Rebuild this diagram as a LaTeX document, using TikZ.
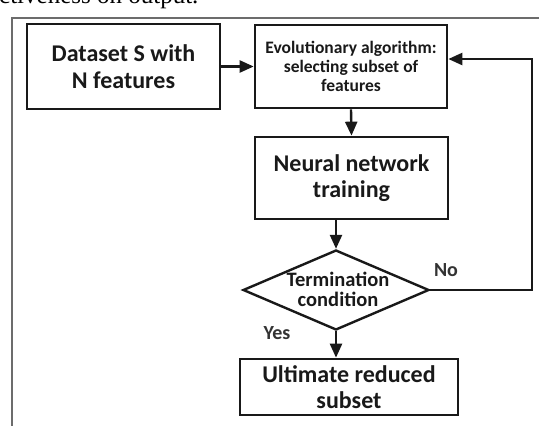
\documentclass[tikz,border=0pt]{standalone}
\usepackage{fontspec}
\setmainfont{Carlito}
\newfontfamily\serifcut{Liberation Serif}
\usetikzlibrary{arrows.meta,shapes.geometric}
\begin{document}
\begin{tikzpicture}[x=1pt,y=-1pt,
  box/.style={draw=black!90,line width=2.7pt,fill=white,inner sep=0pt,align=center,
    text=black!90,font=\bfseries\fontsize{24}{26.5}\selectfont},
  smallbox/.style={box,font=\bfseries\fontsize{17.5}{19}\selectfont},
  decision/.style={diamond,draw=black!90,line width=2.4pt,fill=white,inner sep=0pt},
  decisiontext/.style={text=black!90,align=center,inner sep=0pt,
    font=\bfseries\fontsize{20.5}{20}\selectfont},
  flow/.style={draw=black!90,line width=2.4pt,-{Triangle[length=14pt,width=12pt]}},
  lbl/.style={text=black!80,font=\bfseries\fontsize{20}{22}\selectfont,inner sep=0pt}]
\useasboundingbox (0,0) rectangle (539,426);
\fill[white] (0,0) rectangle (539,426);

% fragment of the running text above the figure
\begin{scope}
  \clip (0,0) rectangle (539,426);
  \node[anchor=base west,inner sep=0pt,font=\serifcut\fontsize{25}{28}\selectfont] (caption) at (-1,3) {ctiveness on output.};
\end{scope}

% outer frame
\draw[gray!85!black,line width=2pt] (12,430) -- (12,18) -- (545,18);

% process steps
\node[box,minimum width=193pt,minimum height=85pt] (data) at (123.5,66.5) {Dataset S with\\N features};
\node[smallbox,minimum width=192pt,minimum height=83pt] (evo) at (351,66.5) {Evolutionary algorithm:\\selecting subset of\\features};
\node[box,minimum width=193pt,minimum height=82pt] (nn) at (351.5,178) {Neural network\\training};
\node[decision,minimum width=186pt,minimum height=80pt] (term) at (336,290) {};
\node[decisiontext] (termtext) at (338,289) {Termination\\condition};
\node[box,minimum width=218pt,minimum height=56pt] (ult) at (349,387) {Ultimate reduced\\subset};

% connectors
\draw[flow] (data.east) -- (evo.west);
\draw[flow] (evo.south) -- (nn.north);
\draw[flow] (term.north |- nn.south) -- (term.north);
\draw[flow] (term.south) -- (term.south |- ult.north);
\coordinate (loopA) at (532,290);
\coordinate (loopB) at (532,59);
\draw[flow] (term.east) -- (loopA) -- (loopB) -- (evo.east |- loopB);

% branch labels
\node[lbl] (no) at (446,270) {No};
\node[lbl] (yes) at (277,333) {Yes};
\end{tikzpicture}
\end{document}
